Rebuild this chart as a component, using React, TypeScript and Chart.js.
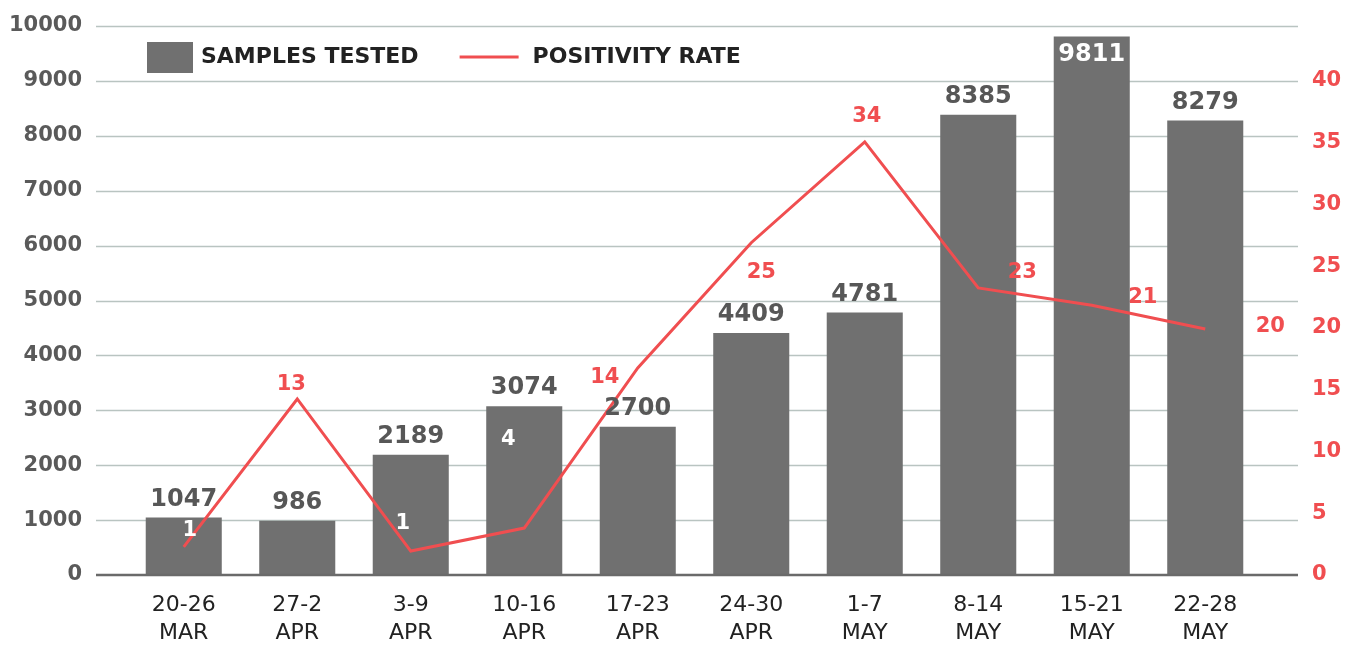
import React, { useEffect, useRef } from 'react';
import { Chart, registerables } from 'chart.js';

Chart.register(...registerables);

// ---------- data ----------
const weekLabels: string[][] = [
  ['20-26', 'MAR'],
  ['27-2', 'APR'],
  ['3-9', 'APR'],
  ['10-16', 'APR'],
  ['17-23', 'APR'],
  ['24-30', 'APR'],
  ['1-7', 'MAY'],
  ['8-14', 'MAY'],
  ['15-21', 'MAY'],
  ['22-28', 'MAY'],
];
const samplesTested = [1047, 986, 2189, 3074, 2700, 4409, 4781, 8385, 9811, 8279];
const positivityRate = [2.27, 14.25, 1.94, 3.8, 16.76, 26.9, 35.06, 23.24, 21.84, 19.92];
const positivityLabels = ['1', '13', '1', '4', '14', '25', '34', '23', '21', '20'];

const leftMax = 10000;
const leftStep = 1000;
const rightStep = 5;
const rightTop = 40; // aligned with the 9000 gridline

// ---------- styles ----------
const BAR = '#707070';
const RED = '#f04e50';
const GRID = '#b9c4c1';
const FONT = '"DejaVu Sans", sans-serif';

// label placement for positivity values (offset from the line point, and colour)
const rateLabelStyle = [
  { dx: 6, dy: -16, color: '#ffffff' },
  { dx: -6, dy: -14, color: RED },
  { dx: -8, dy: -27, color: '#ffffff' },
  { dx: -16, dy: -89, color: '#ffffff' },
  { dx: -33, dy: 10, color: RED },
  { dx: 10, dy: 30, color: RED },
  { dx: 2, dy: -25, color: RED },
  { dx: 44, dy: -15, color: RED },
  { dx: 51, dy: -8, color: RED },
  { dx: 65, dy: -2, color: RED },
];

const decorPlugin = {
  id: 'decor',
  beforeDatasetsDraw(chart: any) {
    const { ctx, chartArea, scales } = chart;
    const y = scales.y;
    const x0 = chartArea.left - 31;
    const x1 = chartArea.right + 36;
    ctx.save();
    ctx.strokeStyle = GRID;
    ctx.lineWidth = 1.3;
    y.ticks.forEach((t: any) => {
      if (t.value === 0) return;
      const py = Math.round(y.getPixelForValue(t.value)) + 0.5;
      ctx.beginPath();
      ctx.moveTo(x0, py);
      ctx.lineTo(x1, py);
      ctx.stroke();
    });
    ctx.restore();
  },
  afterDatasetsDraw(chart: any) {
    const { ctx, chartArea, scales } = chart;
    const y = scales.y;
    const x0 = chartArea.left - 31;
    const x1 = chartArea.right + 36;
    ctx.save();
    // baseline
    const by = y.getPixelForValue(0);
    ctx.strokeStyle = '#6a6a6a';
    ctx.lineWidth = 2.5;
    ctx.beginPath();
    ctx.moveTo(x0, by);
    ctx.lineTo(x1, by);
    ctx.stroke();

    // bar value labels
    const barMeta = chart.getDatasetMeta(0);
    ctx.font = `bold 24px ${FONT}`;
    ctx.textAlign = 'center';
    ctx.textBaseline = 'middle';
    barMeta.data.forEach((bar: any, i: number) => {
      const v = samplesTested[i];
      let ly = bar.y - 18;
      let color = '#575757';
      if (ly - 12 < chartArea.top) {
        ly = bar.y + 18;
        color = '#ffffff';
      }
      ctx.fillStyle = color;
      ctx.fillText(String(v), bar.x, ly);
    });

    // positivity labels
    const lineMeta = chart.getDatasetMeta(1);
    ctx.font = `bold 21px ${FONT}`;
    lineMeta.data.forEach((pt: any, i: number) => {
      const s = rateLabelStyle[i];
      ctx.fillStyle = s.color;
      ctx.fillText(positivityLabels[i], pt.x + s.dx, pt.y + s.dy);
    });

    // legend
    const ds = chart.data.datasets;
    const ly = 57;
    let lx = chartArea.left + 20;
    ctx.fillStyle = BAR;
    ctx.fillRect(lx, 42, 46, 31);
    ctx.font = `bold 22px ${FONT}`;
    ctx.textAlign = 'left';
    ctx.fillStyle = '#222222';
    lx += 54;
    ctx.fillText(ds[0].label, lx, ly);
    lx += ctx.measureText(ds[0].label).width + 41;
    ctx.strokeStyle = RED;
    ctx.lineWidth = 3;
    ctx.beginPath();
    ctx.moveTo(lx, ly);
    ctx.lineTo(lx + 59, ly);
    ctx.stroke();
    lx += 73;
    ctx.fillText(ds[1].label, lx, ly);
    ctx.restore();
  },
};

export default function App() {
  const canvasRef = useRef<HTMLCanvasElement | null>(null);

  useEffect(() => {
    if (!canvasRef.current) return;
    const chart = new Chart(canvasRef.current, {
      type: 'bar',
      data: {
        labels: weekLabels,
        datasets: [
          {
            type: 'bar',
            label: 'SAMPLES TESTED',
            data: samplesTested,
            backgroundColor: BAR,
            barPercentage: 0.67,
            categoryPercentage: 1,
            yAxisID: 'y',
            order: 2,
          },
          {
            type: 'line',
            label: 'POSITIVITY RATE',
            data: positivityRate,
            borderColor: RED,
            borderWidth: 3,
            pointRadius: 0,
            tension: 0,
            fill: false,
            yAxisID: 'y1',
            order: 1,
          } as any,
        ],
      },
      options: {
        animation: false,
        responsive: true,
        maintainAspectRatio: false,
        layout: { padding: { top: 26, left: 0, right: 0, bottom: 0 } },
        plugins: {
          legend: { display: false },
          tooltip: { enabled: false },
        },
        scales: {
          x: {
            grid: { display: false, drawTicks: false },
            border: { display: false },
            ticks: {
              color: '#222222',
              padding: 16,
              font: { family: FONT, size: 22, lineHeight: 28 / 22 },
              maxRotation: 0,
              autoSkip: false,
            },
            afterFit: (s: any) => {
              s.height = 70;
              s.paddingLeft = 0;
              s.paddingRight = 0;
            },
          },
          y: {
            position: 'left',
            min: 0,
            max: leftMax,
            grid: { display: false, drawTicks: false },
            border: { display: false },
            ticks: {
              stepSize: leftStep,
              color: '#5a5a5a',
              padding: 45,
              font: { family: FONT, size: 21, weight: 'bold' },
              callback: (v: any) => String(v),
            },
            afterFit: (s: any) => {
              s.width = 127;
              s.paddingTop = 0;
              s.paddingBottom = 0;
            },
          },
          y1: {
            position: 'right',
            min: 0,
            max: (rightTop * leftMax) / (leftMax - leftStep),
            grid: { display: false, drawTicks: false },
            border: { display: false },
            ticks: {
              stepSize: rightStep,
              includeBounds: false,
              color: RED,
              padding: 50,
              font: { family: FONT, size: 21, weight: 'bold' },
              callback: (v: any) => String(v),
            },
            afterFit: (s: any) => {
              s.width = 93;
              s.paddingTop = 0;
              s.paddingBottom = 0;
            },
          },
        },
      },
      plugins: [decorPlugin],
    });
    return () => chart.destroy();
  }, []);

  return (
    <div style={{ position: 'fixed', left: 0, top: 0, width: 1355, height: 645, background: '#ffffff' }}>
      <canvas ref={canvasRef} />
    </div>
  );
}
